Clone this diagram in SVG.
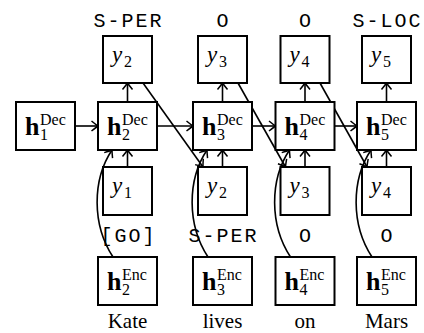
<svg xmlns="http://www.w3.org/2000/svg" width="424" height="333" viewBox="0 0 424 333">
<style>
.box{fill:#fff;stroke:#000;stroke-width:2}
.ln{fill:none;stroke:#000;stroke-width:1.6}
.h{font-family:"Liberation Serif",serif;font-weight:bold;font-size:26px}
.sup{font-family:"Liberation Serif",serif;font-size:16px}
.sub{font-family:"Liberation Serif",serif;font-size:16px}
.y{font-family:"Liberation Serif",serif;font-style:italic;font-size:23px}
.tt{font-family:"Liberation Mono",monospace;font-size:20px;letter-spacing:2px;text-anchor:middle;font-weight:normal}
.w{font-family:"Liberation Serif",serif;font-size:21px;text-anchor:middle}
</style>
<defs>
<marker id="ar" markerUnits="userSpaceOnUse" markerWidth="14" markerHeight="14" viewBox="-8 -7 10 14" refX="0" refY="0" orient="auto">
<path d="M -6.5 -5 Q -2 -1.3 0 0 Q -2 1.3 -6.5 5" fill="none" stroke="#000" stroke-width="1.5"/>
</marker>
</defs>
<rect width="424" height="333" fill="#fff"/>
<g id="connectors">
<line class="ln" x1="75" y1="126" x2="98" y2="126" marker-end="url(#ar)"/>
<line class="ln" x1="157" y1="126" x2="193" y2="126" marker-end="url(#ar)"/>
<line class="ln" x1="252" y1="126" x2="275.5" y2="126" marker-end="url(#ar)"/>
<line class="ln" x1="334.5" y1="126" x2="357" y2="126" marker-end="url(#ar)"/>
<line class="ln" x1="127.5" y1="102" x2="127.5" y2="83" marker-end="url(#ar)"/>
<line class="ln" x1="222.5" y1="102" x2="222.5" y2="83" marker-end="url(#ar)"/>
<line class="ln" x1="305" y1="102" x2="305" y2="83" marker-end="url(#ar)"/>
<line class="ln" x1="386.5" y1="102" x2="386.5" y2="83" marker-end="url(#ar)"/>
<line class="ln" x1="127.5" y1="167" x2="127.5" y2="150" marker-end="url(#ar)"/>
<line class="ln" x1="222.5" y1="167" x2="222.5" y2="150" marker-end="url(#ar)"/>
<line class="ln" x1="305" y1="167" x2="305" y2="150" marker-end="url(#ar)"/>
<line class="ln" x1="386.5" y1="167" x2="386.5" y2="150" marker-end="url(#ar)"/>
<line class="ln" x1="143" y1="83" x2="203" y2="167" marker-end="url(#ar)"/>
<line class="ln" x1="238" y1="83" x2="285.5" y2="167" marker-end="url(#ar)"/>
<line class="ln" x1="320" y1="83" x2="367" y2="167" marker-end="url(#ar)"/>
<path class="ln" d="M113 257 C92 225 92 180 112 150" marker-end="url(#ar)"/>
<path class="ln" d="M208 257 C187 225 187 180 207 150" marker-end="url(#ar)"/>
<path class="ln" d="M290.5 257 C269.5 225 269.5 180 289.5 150" marker-end="url(#ar)"/>
<path class="ln" d="M372 257 C351 225 351 180 371 150" marker-end="url(#ar)"/>
</g>
<g id="dec1"><rect class="box" x="16" y="102" width="59" height="48"/><text class="h" x="25" y="135">h</text><text class="sup" x="40" y="125">Dec</text><text class="sub" x="40" y="140">1</text></g>
<g id="dec2"><rect class="box" x="98" y="102" width="59" height="48"/><text class="h" x="107" y="135">h</text><text class="sup" x="122" y="125">Dec</text><text class="sub" x="122" y="140">2</text></g>
<g id="dec3"><rect class="box" x="193" y="102" width="59" height="48"/><text class="h" x="202" y="135">h</text><text class="sup" x="217" y="125">Dec</text><text class="sub" x="217" y="140">3</text></g>
<g id="dec4"><rect class="box" x="275.5" y="102" width="59" height="48"/><text class="h" x="284.5" y="135">h</text><text class="sup" x="299.5" y="125">Dec</text><text class="sub" x="299.5" y="140">4</text></g>
<g id="dec5"><rect class="box" x="357" y="102" width="59" height="48"/><text class="h" x="366" y="135">h</text><text class="sup" x="381" y="125">Dec</text><text class="sub" x="381" y="140">5</text></g>
<g id="enc2"><rect class="box" x="98" y="257" width="59" height="48"/><text class="h" x="107" y="290">h</text><text class="sup" x="122" y="280">Enc</text><text class="sub" x="122" y="295">2</text></g>
<g id="enc3"><rect class="box" x="193" y="257" width="59" height="48"/><text class="h" x="202" y="290">h</text><text class="sup" x="217" y="280">Enc</text><text class="sub" x="217" y="295">3</text></g>
<g id="enc4"><rect class="box" x="275.5" y="257" width="59" height="48"/><text class="h" x="284.5" y="290">h</text><text class="sup" x="299.5" y="280">Enc</text><text class="sub" x="299.5" y="295">4</text></g>
<g id="enc5"><rect class="box" x="357" y="257" width="59" height="48"/><text class="h" x="366" y="290">h</text><text class="sup" x="381" y="280">Enc</text><text class="sub" x="381" y="295">5</text></g>
<g id="out2"><rect class="box" x="103" y="36" width="49" height="47"/><text class="y" x="112" y="62">y</text><text class="sub" x="124" y="67">2</text></g>
<g id="out3"><rect class="box" x="198" y="36" width="49" height="47"/><text class="y" x="207" y="62">y</text><text class="sub" x="219" y="67">3</text></g>
<g id="out4"><rect class="box" x="280.5" y="36" width="49" height="47"/><text class="y" x="289.5" y="62">y</text><text class="sub" x="301.5" y="67">4</text></g>
<g id="out5"><rect class="box" x="362" y="36" width="49" height="47"/><text class="y" x="371" y="62">y</text><text class="sub" x="383" y="67">5</text></g>
<g id="in1"><rect class="box" x="103" y="167" width="49" height="48"/><text class="y" x="112" y="193">y</text><text class="sub" x="124" y="198">1</text></g>
<g id="in2"><rect class="box" x="198" y="167" width="49" height="48"/><text class="y" x="207" y="193">y</text><text class="sub" x="219" y="198">2</text></g>
<g id="in3"><rect class="box" x="280.5" y="167" width="49" height="48"/><text class="y" x="289.5" y="193">y</text><text class="sub" x="301.5" y="198">3</text></g>
<g id="in4"><rect class="box" x="362" y="167" width="49" height="48"/><text class="y" x="371" y="193">y</text><text class="sub" x="383" y="198">4</text></g>
<g id="labels">
<text class="tt" x="128.5" y="27">S-PER</text>
<text class="tt" x="223.5" y="27">O</text>
<text class="tt" x="306" y="27">O</text>
<text class="tt" x="387.5" y="27">S-LOC</text>
<text class="tt" x="128.5" y="242">[GO]</text>
<text class="tt" x="223.5" y="242">S-PER</text>
<text class="tt" x="306" y="242">O</text>
<text class="tt" x="387.5" y="242">O</text>
<text class="w" x="127.5" y="328">Kate</text>
<text class="w" x="222.5" y="328">lives</text>
<text class="w" x="305" y="328">on</text>
<text class="w" x="386.5" y="328">Mars</text>
</g>
</svg>
